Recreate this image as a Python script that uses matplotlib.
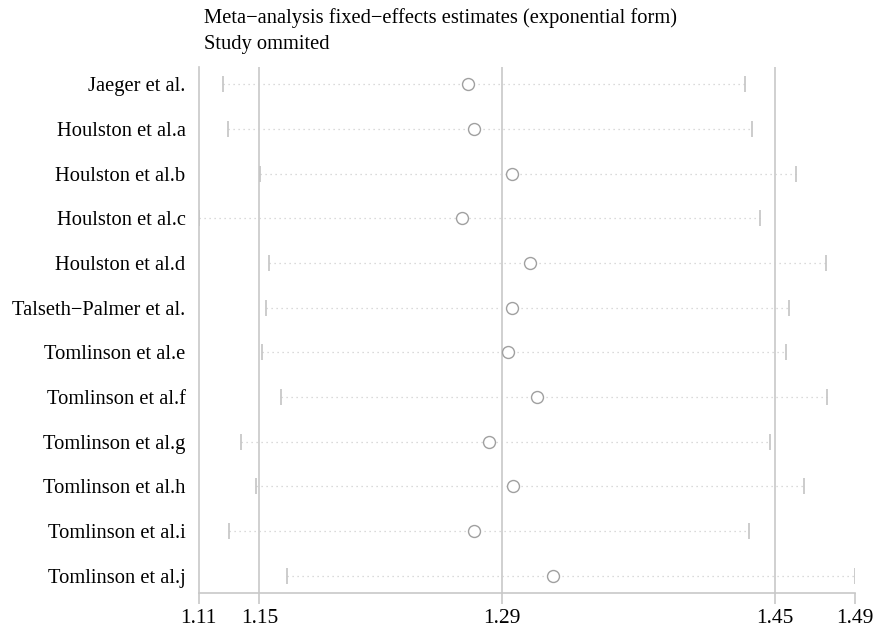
import matplotlib
matplotlib.use("Agg")
import matplotlib.pyplot as plt

studies = ["Jaeger et al.", "Houlston et al.a", "Houlston et al.b", "Houlston et al.c",
           "Houlston et al.d", "Talseth\u2212Palmer et al.", "Tomlinson et al.e",
           "Tomlinson et al.f", "Tomlinson et al.g", "Tomlinson et al.h",
           "Tomlinson et al.i", "Tomlinson et al.j"]
estimate = [1.2692, 1.2726, 1.2945, 1.2654, 1.3053, 1.2948, 1.2923, 1.3092, 1.2815, 1.2951, 1.2724, 1.3185]
lower = [1.1268, 1.1294, 1.1481, 1.1125, 1.1535, 1.1518, 1.1493, 1.1602, 1.1369, 1.1456, 1.1303, 1.1637]
upper = [1.4301, 1.4342, 1.4596, 1.4392, 1.4772, 1.4559, 1.4538, 1.4780, 1.4447, 1.4646, 1.4325, 1.4939]
overall_lower = 1.1478
overall_est = 1.2888
overall_upper = 1.4476

title_lines = ["Meta\u2212analysis fixed\u2212effects estimates (exponential form)", "Study ommited"]

plt.rcParams['font.family'] = ['Liberation Serif', 'DejaVu Serif']

fig = plt.figure(figsize=(8.78, 6.28), dpi=100)
top_px, bot_px = 66.7, 593.3
ax = fig.add_axes([198.7/878, 1 - bot_px/628, (854.5-198.7)/878, (bot_px-top_px)/628])

ypos = list(range(1, len(studies) + 1))
xmin = min(lower)
xmax = max(upper)

for v in (overall_lower, overall_est, overall_upper):
    ax.axvline(v, color="#c8c8c8", lw=1.2, zorder=1)

for y, lo, hi in zip(ypos, lower, upper):
    ax.plot([lo, hi], [y, y], linestyle=(0, (1, 3)), color="#cfcfcf", lw=0.9, zorder=2)
ax.plot(lower, ypos, linestyle="none", marker="|", markersize=11, mew=1.2, color="#c4c4c4", zorder=3)
ax.plot(upper, ypos, linestyle="none", marker="|", markersize=11, mew=1.2, color="#c4c4c4", zorder=3)
ax.plot(estimate, ypos, linestyle="none", marker="o", markersize=8.6, mfc="white", mec="#a0a0a0", mew=1.0, zorder=4)

ax.set_xlim(xmin, xmax)
ax.set_ylim(12.39, 0.61)
ticks = [xmin, overall_lower, overall_est, overall_upper, xmax]
ax.set_xticks(ticks)
ax.set_xticklabels(["%.2f" % t for t in ticks], fontsize=15.5)
ax.set_yticks(ypos)
ax.set_yticklabels(studies, fontsize=14.8)
ax.tick_params(axis="y", length=0, pad=9.5)
ax.tick_params(axis="x", length=8, color="#c8c8c8", width=1.2, pad=3)
for s in ("top", "right"):
    ax.spines[s].set_visible(False)
for s in ("left", "bottom"):
    ax.spines[s].set_color("#c8c8c8")
    ax.spines[s].set_linewidth(1.2)

fig.text(204/878, 1 - 18/628, title_lines[0], fontsize=14.8, va="center", ha="left")
fig.text(204/878, 1 - 45/628, title_lines[1], fontsize=14.8, va="center", ha="left")

fig.savefig("out.png", dpi=100)
